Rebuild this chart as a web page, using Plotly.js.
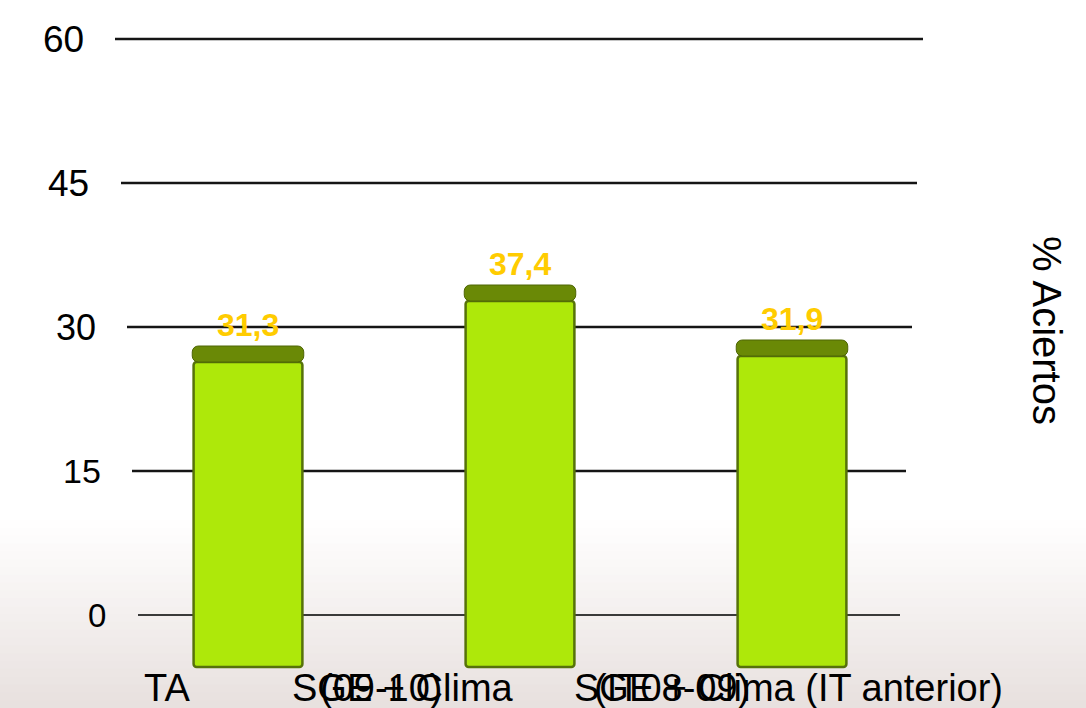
<!DOCTYPE html>
<html>
<head>
<meta charset="utf-8">
<script src="https://cdn.plot.ly/plotly-3.0.1.min.js"></script>
<style>html,body{margin:0;padding:0;background:#fff;}#chart{width:1086px;height:708px;}</style>
</head>
<body>
<div id="chart"></div>
<script>
// ---- data ----
const categories = ['TA', 'SGE + Clima', 'SGE + Clima (IT anterior)'];
const aciertos = [31.3, 37.4, 31.9];
const tickValues = [60, 45, 30, 15, 0];
const tickLabels = ['60', '45', '30', '15', '0'];
const periodLabels = ['(09-10)', '(IT08-09)'];
const axisTitle = '% Aciertos';

// ---- layout helpers (pixel geometry) ----
const W = 1086, H = 708, L = 112, R = 158, T = 30, B = 18;
const PW = W - L - R, PH = H - T - B;
const px2x = px => (px - L) / PW;
const py2y = py => (H - B - py) / PH;
const FONT = '"Liberation Sans", Arial, sans-serif';

const idx = categories.map((c, i) => i);

// background gradient bands
const shapes = [];
const gStart = 520, gEnd = 708, nBands = 24;
for (let i = 0; i < nBands; i++) {
  const t = (i + 0.5) / nBands;
  const r = Math.round(255 - t * 23), g = Math.round(255 - t * 31), b = Math.round(255 - t * 33);
  const y0 = gStart + (gEnd - gStart) * i / nBands;
  const y1 = gStart + (gEnd - gStart) * (i + 1) / nBands + 1;
  shapes.push({type: 'rect', xref: 'paper', yref: 'paper', layer: 'below',
    x0: px2x(-2), x1: px2x(W + 2), y0: py2y(y1), y1: py2y(y0),
    line: {width: 0}, fillcolor: `rgb(${r},${g},${b})`});
}
// perspective gridlines
const gridExtents = [[115, 923], [121, 917], [127, 912], [132, 906], [138, 900]];
tickValues.forEach((v, i) => {
  shapes.push({type: 'line', xref: 'paper', yref: 'y', layer: 'below',
    x0: px2x(gridExtents[i][0]), x1: px2x(gridExtents[i][1]), y0: v, y1: v,
    line: {color: v === 0 ? '#3a3a3a' : '#151515', width: v === 0 ? 2 : 2.6}});
});

const annotations = [];
// tick labels
const tickRight = [86, 91, 98, 103, 108];
const tickSize = [37, 37, 36, 34, 33];
tickValues.forEach((v, i) => {
  annotations.push({xref: 'paper', yref: 'y', x: px2x(tickRight[i]), y: v,
    xanchor: 'right', yanchor: 'middle', showarrow: false, text: tickLabels[i],
    font: {family: FONT, size: tickSize[i], color: '#000'}});
});
// value labels
aciertos.forEach((v, i) => {
  annotations.push({xref: 'x', yref: 'y2', x: idx[i], y: v + 0.8, xanchor: 'center', yanchor: 'bottom',
    yshift: 1, showarrow: false, text: v.toFixed(1).replace('.', ','),
    font: {family: FONT, size: 32, color: '#FFCC00', weight: 'bold'}});
});
// category labels (overlapping as in the original)
const catLeft = [142, 290, 572];
categories.forEach((c, i) => {
  annotations.push({xref: 'paper', yref: 'paper', x: px2x(catLeft[i]), y: py2y(688),
    xanchor: 'left', yanchor: 'middle', showarrow: false, text: c,
    font: {family: FONT, size: 38, color: '#000'}});
});
const periodLeft = [318, 592];
periodLabels.forEach((p, i) => {
  annotations.push({xref: 'paper', yref: 'paper', x: px2x(periodLeft[i]), y: py2y(688),
    xanchor: 'left', yanchor: 'middle', showarrow: false, text: p,
    font: {family: FONT, size: 38, color: '#000'}});
});
// axis title (right side, rotated)
annotations.push({xref: 'paper', yref: 'paper', x: px2x(1047), y: py2y(330),
  xanchor: 'center', yanchor: 'middle', showarrow: false, text: axisTitle, textangle: 90,
  font: {family: FONT, size: 40, color: '#000'}});

const frontTop = aciertos.map(v => v - 0.8);
const traces = [
  {type: 'bar', x: idx, y: frontTop, base: 0, width: 0.40, yaxis: 'y2',
   marker: {color: '#aee80a', line: {color: '#56720a', width: 2.5}, cornerradius: 3},
   hoverinfo: 'skip'},
  {type: 'bar', x: idx, y: aciertos.map(() => 1.6), base: frontTop, width: 0.41, yaxis: 'y2',
   marker: {color: '#6a8906', line: {color: '#4e6604', width: 1}, cornerradius: 6},
   hoverinfo: 'skip'}
];

const layout = {
  width: W, height: H,
  margin: {l: L, r: R, t: T, b: B, pad: 0},
  paper_bgcolor: '#ffffff', plot_bgcolor: 'rgba(0,0,0,0)',
  showlegend: false, barmode: 'overlay',
  xaxis: {range: [-0.5, 2.5], showgrid: false, zeroline: false, showticklabels: false, showline: false, ticks: ''},
  yaxis: {range: [-7.8125, 60.9375], showgrid: false, zeroline: false, showticklabels: false, showline: false, ticks: ''},
  yaxis2: {range: [-2.3, 63.7], overlaying: 'y', showgrid: false, zeroline: false, showticklabels: false, showline: false, ticks: ''},
  shapes: shapes,
  annotations: annotations
};

Plotly.newPlot('chart', traces, layout, {displayModeBar: false, staticPlot: true});
</script>
</body>
</html>
